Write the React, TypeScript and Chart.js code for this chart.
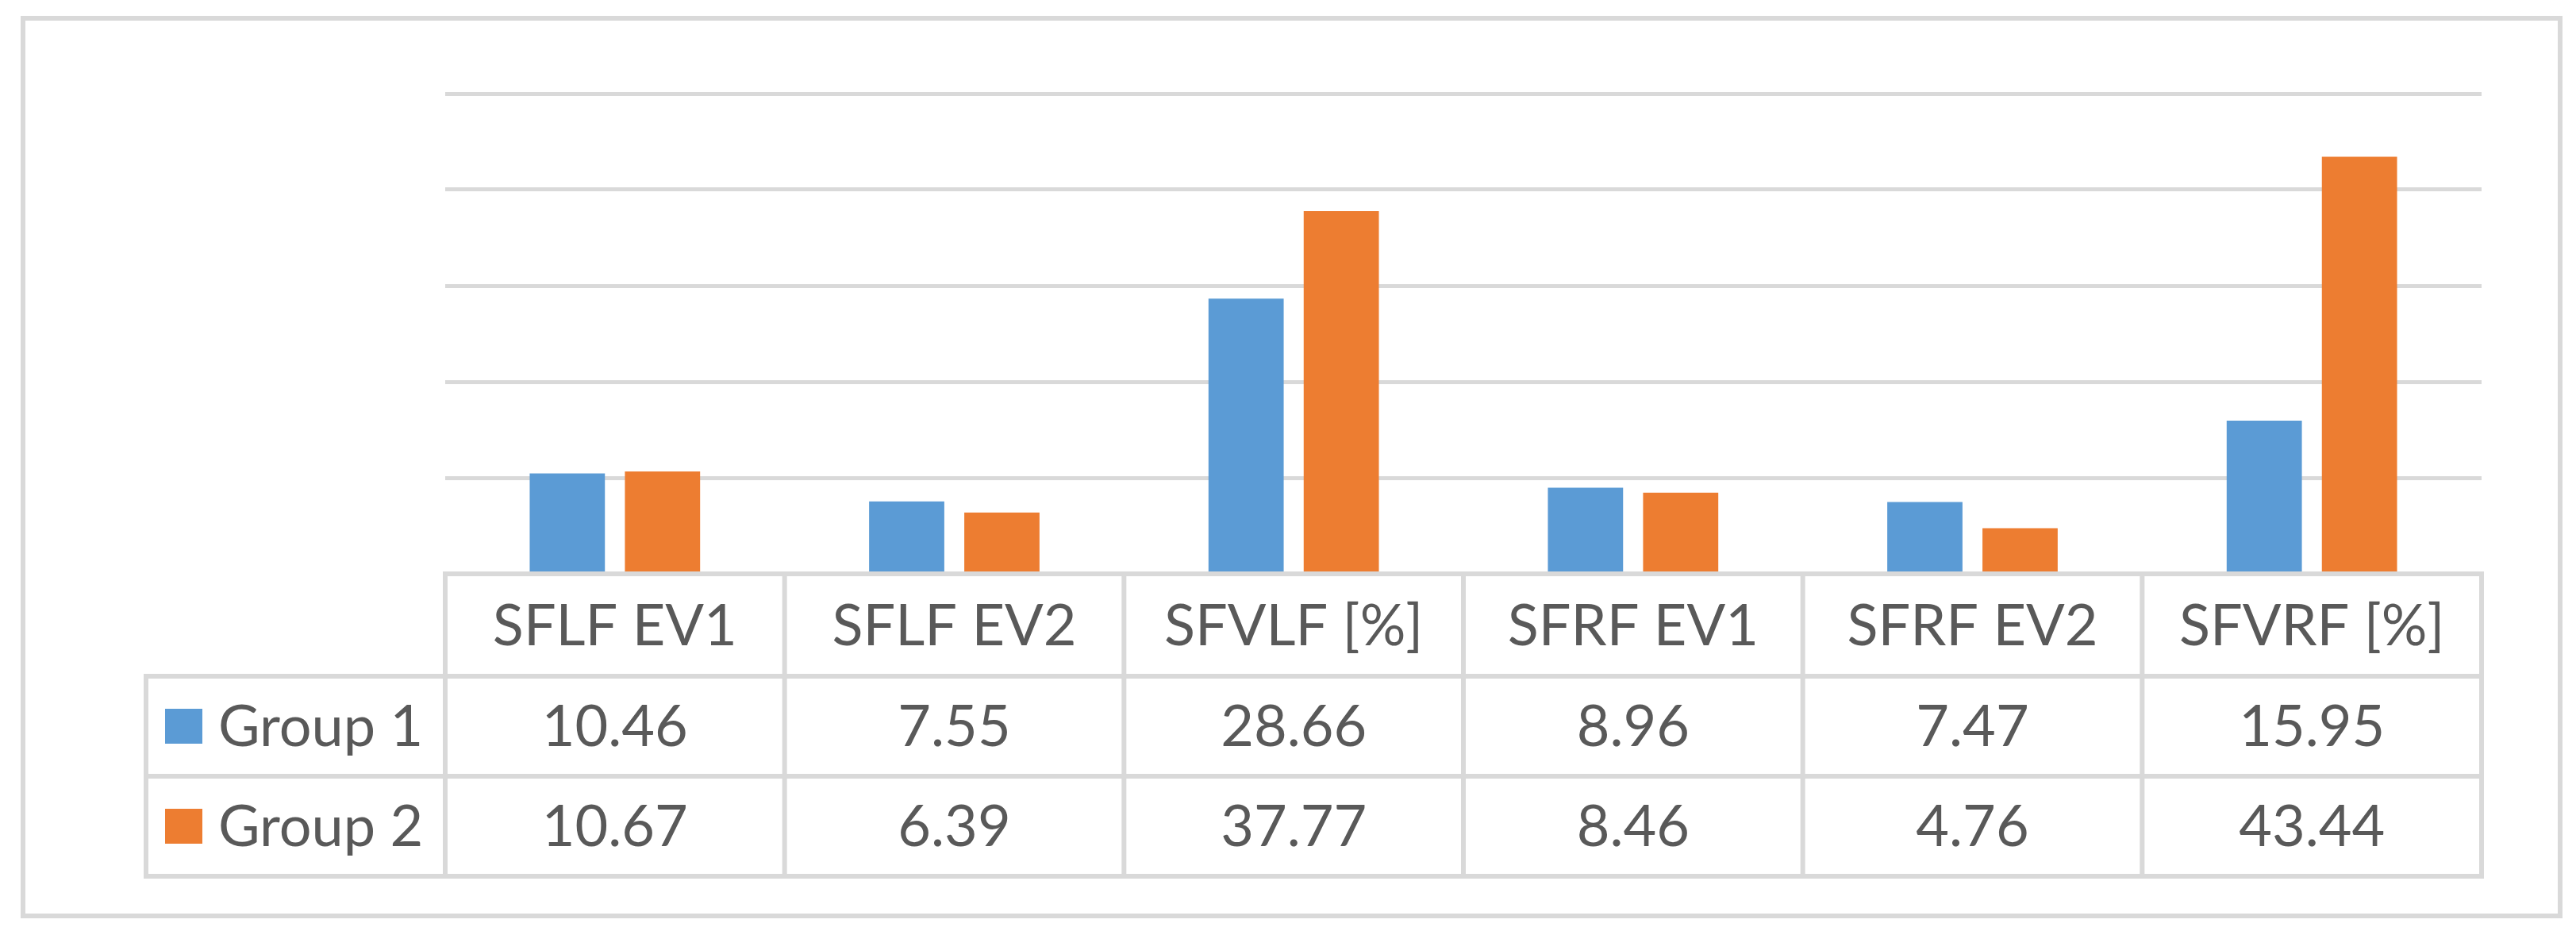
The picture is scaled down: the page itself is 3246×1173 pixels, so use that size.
import React, { useEffect, useRef } from "react";
import { Chart, registerables } from "chart.js";

Chart.register(...registerables);

const categories = ["SFLF EV1", "SFLF EV2", "SFVLF [%]", "SFRF EV1", "SFRF EV2", "SFVRF [%]"];
const seriesNames = ["Group 1", "Group 2"];
const group1 = [10.46, 7.55, 28.66, 8.96, 7.47, 15.95];
const group2 = [10.67, 6.39, 37.77, 8.46, 4.76, 43.44];
const yMax = 50;
const yStep = 10;

const W = 3246;
const H = 1173;
const BLUE = "#5B9BD5";
const ORANGE = "#ED7D31";
const GRID = "#d9d9d9";
const TEXT = "#595959";
const FONT = "Lato, 'Open Sans', sans-serif";

const tablePlugin = {
  id: "dataTable",
  beforeDraw(chart: any) {
    const ctx = chart.ctx;
    ctx.save();
    ctx.fillStyle = "#ffffff";
    ctx.fillRect(0, 0, W, H);
    ctx.restore();
  },
  afterDraw(chart: any) {
    const ctx = chart.ctx;
    const area = chart.chartArea;
    const xs = chart.scales.x;
    const n = categories.length;
    const colW = (area.right - area.left) / n;
    const top = area.bottom;
    const rowsY = [top, top + 129, top + 255, top + 381];
    const legendLeft = 184;
    ctx.save();
    ctx.strokeStyle = GRID;
    ctx.lineWidth = 6;
    ctx.lineCap = "square";
    ctx.beginPath();
    ctx.moveTo(area.left, rowsY[0]);
    ctx.lineTo(area.right, rowsY[0]);
    for (let r = 1; r < rowsY.length; r++) {
      ctx.moveTo(legendLeft, rowsY[r]);
      ctx.lineTo(area.right, rowsY[r]);
    }
    for (let c = 0; c <= n; c++) {
      const x = area.left + c * colW;
      ctx.moveTo(x, rowsY[0]);
      ctx.lineTo(x, rowsY[3]);
    }
    ctx.moveTo(legendLeft, rowsY[1]);
    ctx.lineTo(legendLeft, rowsY[3]);
    ctx.stroke();

    ctx.lineWidth = 6;
    ctx.strokeRect(29, 23, 3197, 1131);

    ctx.fillStyle = TEXT;
    ctx.font = `72px ${FONT}`;
    ctx.textAlign = "center";
    ctx.textBaseline = "middle";
    for (let i = 0; i < n; i++) {
      const cx = xs.getPixelForValue(i);
      ctx.fillText(categories[i], cx, (rowsY[0] + rowsY[1]) / 2 + 2);
      ctx.fillText(group1[i].toFixed(2), cx, (rowsY[1] + rowsY[2]) / 2 + 2);
      ctx.fillText(group2[i].toFixed(2), cx, (rowsY[2] + rowsY[3]) / 2 + 2);
    }
    const colors = [BLUE, ORANGE];
    ctx.textAlign = "left";
    for (let s = 0; s < 2; s++) {
      const cy = (rowsY[s + 1] + rowsY[s + 2]) / 2;
      ctx.fillStyle = colors[s];
      ctx.fillRect(208, cy - 22, 47, 44);
      ctx.fillStyle = TEXT;
      ctx.fillText(seriesNames[s], 275, cy + 2);
    }
    ctx.restore();
  },
};

export default function App() {
  const ref = useRef<HTMLCanvasElement>(null);
  useEffect(() => {
    const canvas = ref.current!;
    const chart = new Chart(canvas, {
      type: "bar",
      data: {
        labels: categories,
        datasets: [
          { label: seriesNames[0], data: group1, backgroundColor: BLUE, categoryPercentage: 0.561, barPercentage: 0.79 },
          { label: seriesNames[1], data: group2, backgroundColor: ORANGE, categoryPercentage: 0.561, barPercentage: 0.79 },
        ],
      },
      options: {
        animation: false,
        responsive: false,
        devicePixelRatio: 1,
        layout: { padding: { left: 561, right: 119, top: 118, bottom: 450 } },
        plugins: { legend: { display: false }, tooltip: { enabled: false }, title: { display: false } },
        scales: {
          x: { display: false },
          y: {
            min: 0,
            max: yMax,
            ticks: { display: false, stepSize: yStep },
            border: { display: false },
            grid: { color: GRID, lineWidth: 5, drawTicks: false },
            afterFit: (s: any) => {
              s.width = 0;
            },
          },
        },
      },
      plugins: [tablePlugin],
    });
    return () => chart.destroy();
  }, []);
  return (
    <div style={{ position: "absolute", left: 0, top: 0, width: W, height: H, background: "#fff" }}>
      <canvas ref={ref} width={W} height={H} style={{ width: W, height: H, display: "block" }} />
    </div>
  );
}
